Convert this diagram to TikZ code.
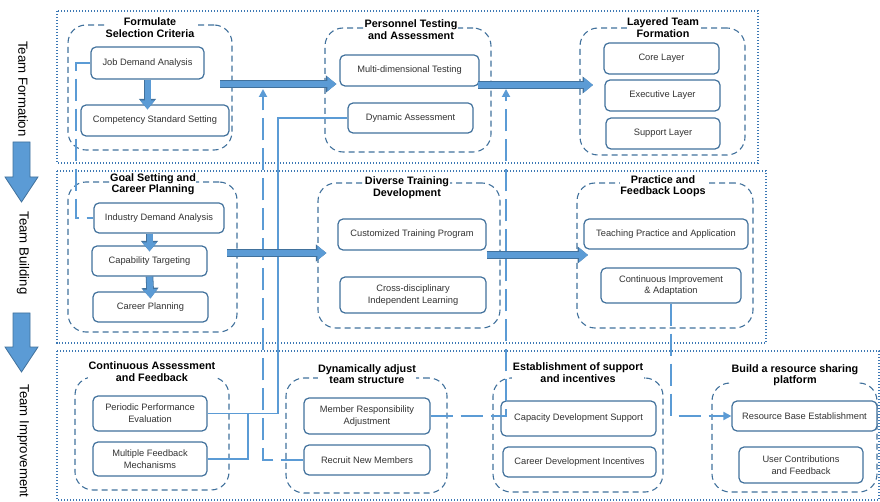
\documentclass[tikz,border=0pt]{standalone}
\usepackage{fontspec}
\setmainfont{Liberation Sans}
\usetikzlibrary{arrows.meta,calc}
\definecolor{bedge}{HTML}{41719C}
\definecolor{bfill}{HTML}{5B9BD5}
\definecolor{connc}{HTML}{5B9BD5}
\definecolor{regc}{HTML}{3C78B4}
\definecolor{txtc}{HTML}{333333}
\begin{document}
\begin{tikzpicture}[x=1pt,y=-1pt,
  region/.style={draw=regc, line width=1.6pt, dash pattern=on 1.4pt off 1.6pt},
  grp/.style={draw=bedge, line width=1.1pt, dash pattern=on 6pt off 4pt, rounded corners=18pt, inner sep=0pt},
  ttl/.style={fill=white, align=center, inner sep=0.5pt, font=\fontsize{10.8}{11.5}\selectfont\bfseries, text=black},
  box/.style={draw=bedge, line width=1.2pt, rounded corners=5pt, fill=white, align=center, inner sep=1pt, font=\fontsize{9.3}{11.7}\selectfont, text=txtc},
  side/.style={rotate=-90, font=\fontsize{13.2}{14}\selectfont, text=black},
  blockarrow/.style={line width=6pt, draw=bfill, -{Triangle[length=9pt,width=14pt]},
     preaction={draw=bedge, line width=7.6pt, -{Triangle[length=10.5pt,width=16.5pt]}}},
  conn/.style={draw=connc, line width=1.9pt},
  dconn/.style={draw=connc, line width=1.9pt, dash pattern=on 22pt off 8pt},
  tip/.style={-{Triangle[length=8pt,width=8pt]}}
]
\useasboundingbox (0,0) rectangle (880,502);

% regions
\draw[region] (57,11) rectangle (758,163);
\draw[region] (57,171) rectangle (766,343);
\draw[region] (57,351) rectangle (879,500);

% side labels and arrows
\node[side] (sf) at (23,89) {Team Formation};
\node[side] (sb) at (23,253) {Team Building};
\node[side] (si) at (23,441) {Team Improvement};
\filldraw[fill=bfill, draw=bedge, line width=0.8pt] (13,142) -- (30,142) -- (30,177) -- (38,177) -- (21.5,202) -- (5,177) -- (13,177) -- cycle;
\filldraw[fill=bfill, draw=bedge, line width=0.8pt] (13,313) -- (30,313) -- (30,347) -- (38,347) -- (21.5,372) -- (5,347) -- (13,347) -- cycle;

% groups
\node[grp, minimum width=164pt, minimum height=125pt] (g1) at (150,87.5) {};
\node[grp, minimum width=166pt, minimum height=124pt] (g2) at (408,90) {};
\node[grp, minimum width=165pt, minimum height=127pt] (g3) at (662.5,91.5) {};
\node[grp, minimum width=169pt, minimum height=150pt] (g4) at (152.5,257) {};
\node[grp, minimum width=182pt, minimum height=145pt] (g5) at (409,255.5) {};
\node[grp, minimum width=176pt, minimum height=145pt] (g6) at (665,255.5) {};
\node[grp, minimum width=154pt, minimum height=113pt] (g7) at (152,433.5) {};
\node[grp, minimum width=161pt, minimum height=115pt] (g8) at (366.5,435.5) {};
\node[grp, minimum width=170pt, minimum height=114pt] (g9) at (578,435) {};
\node[grp, minimum width=165pt, minimum height=109pt] (g10) at (794.5,437.5) {};

% boxes
\node[box, minimum width=113pt, minimum height=32pt] (job) at (147.5,63) {Job Demand Analysis};
\node[box, minimum width=148pt, minimum height=31pt] (comp) at (155,120.5) {Competency Standard Setting};
\node[box, minimum width=139pt, minimum height=31pt] (multi) at (409.5,70.5) {Multi-dimensional Testing};
\node[box, minimum width=125pt, minimum height=30pt] (dyn) at (410.5,118) {Dynamic Assessment};
\node[box, minimum width=115pt, minimum height=31pt] (core) at (661.5,58.5) {Core Layer};
\node[box, minimum width=115pt, minimum height=31pt] (exec) at (662.5,95.5) {Executive Layer};
\node[box, minimum width=114pt, minimum height=31pt] (supp) at (663,133.5) {Support Layer};
\node[box, minimum width=130pt, minimum height=30pt] (ind) at (159,218) {Industry Demand Analysis};
\node[box, minimum width=115pt, minimum height=30pt] (cap) at (149.5,261) {Capability Targeting};
\node[box, minimum width=115pt, minimum height=30pt] (career) at (150.5,307) {Career Planning};
\node[box, minimum width=148pt, minimum height=31pt] (cust) at (412,234.5) {Customized Training Program};
\node[box, minimum width=146pt, minimum height=36pt] (cross) at (413,295) {Cross-disciplinary\\Independent Learning};
\node[box, minimum width=164pt, minimum height=30pt] (teach) at (666,234) {Teaching Practice and Application};
\node[box, minimum width=140pt, minimum height=35pt] (contimp) at (671,285.5) {Continuous Improvement\\\& Adaptation};
\node[box, minimum width=114pt, minimum height=35pt] (periodic) at (150,413.5) {Periodic Performance\\Evaluation};
\node[box, minimum width=114pt, minimum height=34pt] (multfb) at (150,459) {Multiple Feedback\\Mechanisms};
\node[box, minimum width=126pt, minimum height=36pt] (member) at (367,416) {Member Responsibility\\Adjustment};
\node[box, minimum width=126pt, minimum height=30pt] (recruit) at (367,460) {Recruit New Members};
\node[box, minimum width=155pt, minimum height=35pt] (capdev) at (578.5,418.5) {Capacity Development Support};
\node[box, minimum width=153pt, minimum height=30pt] (careerdev) at (579.5,462) {Career Development Incentives};
\node[box, minimum width=145pt, minimum height=30pt] (resbase) at (804.5,416) {Resource Base Establishment};
\node[box, minimum width=124pt, minimum height=36pt] (usercon) at (801,465) {User Contributions\\and Feedback};

% titles
\node[ttl] (t1) at (150,27.5) {Formulate\\Selection Criteria};
\node[ttl] (t2) at (411,29.5) {Personnel Testing\\and Assessment};
\node[ttl] (t3) at (663,27.5) {Layered Team\\Formation};
\node[ttl] (t4) at (153,184) {Goal Setting and\\Career Planning};
\node[ttl] (t5) at (407,187.5) {Diverse Training\\Development};
\node[ttl] (t6) at (663,186) {Practice and\\Feedback Loops};
\node[ttl] (t7) at (152,371.5) {Continuous Assessment\\and Feedback};
\node[ttl] (t8) at (367,374) {Dynamically adjust\\team structure};
\node[ttl] (t9) at (578,372.5) {Establishment of support\\and incentives};
\node[ttl] (t10) at (795,375) {Build a resource sharing\\platform};

% helper coordinates
\coordinate (c1) at (76,0);
\coordinate (c2) at (263,89);
\coordinate (c3) at (278,0);
\coordinate (c5) at (506,89);
\coordinate (a1s) at (220,84);
\coordinate (a2e) at (593,85);
\coordinate (a3s) at (227,253);
\coordinate (a4e) at (588,255);

% thin connectors
\draw[dconn] (job.west) -- (job.west -| c1) |- (ind.west);
\draw[dconn, tip] (recruit.west) -| (c2);
\draw[conn] (periodic.east) -- (periodic.east -| c3) |- (dyn.west);
\draw[conn] (multfb.east) -| ($(periodic.east)+(40,0)$);
\draw[dconn, tip] (member.east) -| (c5);
\draw[dconn, tip] (contimp.south) |- (resbase.west);

% block arrows
\draw[blockarrow] (a1s) -- ($(multi.west |- a1s)+(-3,0)$);
\draw[blockarrow] ($(multi.east |- a2e)+(-2,0)$) -- (a2e);
\draw[blockarrow] (a3s) -- ($(cust.west |- a3s)+(-11,0)$);
\draw[blockarrow] ($(cust.east |- a4e)$) -- (a4e);
\draw[blockarrow] (job.south) -- ($(job.south |- comp.north)+(0,5)$);
\draw[blockarrow] (cap.north |- ind.south) -- ($(cap.north)+(0,6)$);
\draw[blockarrow] (cap.south) -- ($(career.north)+(0,7)$);
\end{tikzpicture}
\end{document}
